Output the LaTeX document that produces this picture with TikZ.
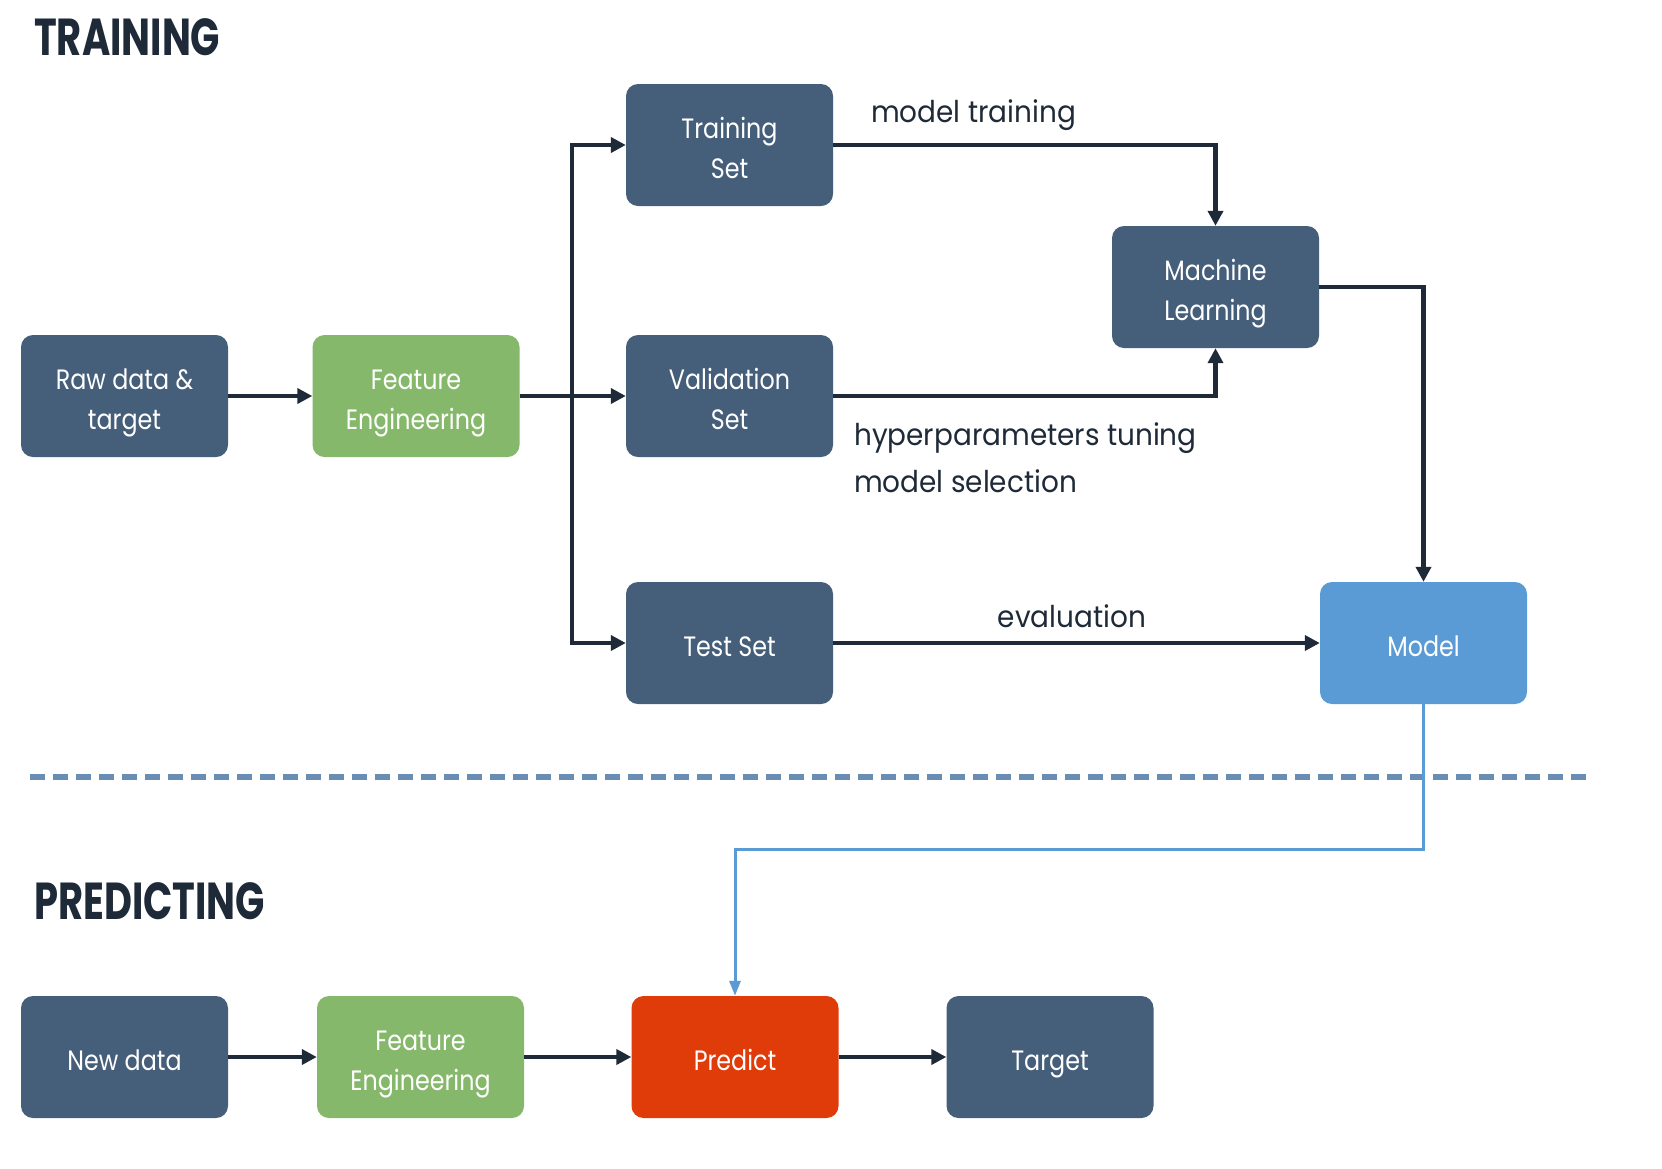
\documentclass[tikz,border=0pt]{standalone}
\usepackage{fontspec}
\setmainfont{Poppins}
\newfontfamily\boxfont[FakeStretch=0.85]{Poppins}
\newfontfamily\lblfont[FakeStretch=0.93]{Poppins}
\newfontfamily\ttlfont[FakeStretch=0.74]{Poppins}
\usetikzlibrary{arrows.meta,positioning}
\definecolor{slate}{HTML}{455E7A}
\definecolor{leaf}{HTML}{86B86B}
\definecolor{sky}{HTML}{5B9BD5}
\definecolor{flame}{HTML}{E03C0A}
\definecolor{ink}{HTML}{1E2A38}
\definecolor{dashblue}{HTML}{6A8DB4}
\newcommand{\bt}[1]{\raisebox{-5pt}[\height][\depth]{\begin{tabular}{@{}c@{}}#1\end{tabular}}}
\tikzset{
  box/.style={rounded corners=12pt, minimum width=207pt, minimum height=122pt, text=white, font=\boxfont\fontsize{28}{40}\selectfont, inner sep=0pt},
  arr/.style={draw=ink, line width=4.5pt, -{Triangle[length=15pt,width=15pt]}},
  bluearr/.style={draw=sky, line width=3pt, -{Triangle[length=15pt,width=11pt]}},
  lbl/.style={text=ink, font=\lblfont\fontsize{30}{36}\selectfont, inner sep=0pt},
  ttl/.style={text=ink, font=\ttlfont\fontsize{52}{60}\selectfont\bfseries, inner sep=0pt, anchor=west}
}
\begin{document}
\begin{tikzpicture}[x=1pt,y=-1pt]
\useasboundingbox[fill=white] (0,0) rectangle (1662,1168);
\node[ttl] (t1) at (34,37) {TRAINING};
\node[ttl] (t2) at (34,901) {PREDICTING};

\node[box, fill=slate] (raw) at (124.5,396) {\bt{Raw data \&\\target}};
\node[box, fill=leaf] (fe) at (416,396) {\bt{Feature\\Engineering}};
\node[box, fill=slate] (train) at (729.5,145) {\bt{Training\\Set}};
\node[box, fill=slate] (val) at (729.5,396) {\bt{Validation\\Set}};
\node[box, fill=slate] (test) at (729.5,643) {\bt{Test Set}};
\node[box, fill=slate] (ml) at (1215.5,287) {\bt{Machine\\Learning}};
\node[box, fill=sky] (model) at (1423.5,643) {\bt{Model}};

\node[box, fill=slate] (new) at (124.5,1057) {\bt{New data}};
\node[box, fill=leaf] (fe2) at (420.5,1057) {\bt{Feature\\Engineering}};
\node[box, fill=flame] (pred) at (735,1057) {\bt{Predict}};
\node[box, fill=slate] (target) at (1050,1057) {\bt{Target}};

\draw[arr] (raw) -- (fe);
\draw[arr] (fe) -- (val);
\coordinate (split) at (572,396);
\draw[arr] (split) |- (train.west);
\draw[arr] (split) |- (test.west);
\draw[arr] (train.east) -| (ml.north);
\draw[arr] (val.east) -| (ml.south);
\draw[arr] (ml.east) -| (model.north);
\draw[arr] (test) -- (model);

\node[lbl, anchor=west] (l1) at (871,115) {model training};
\node[lbl, anchor=west] (l2) at (854,438) {hyperparameters tuning};
\node[lbl, anchor=west] (l3) at (854,481) {model selection};
\node[lbl] (l4) at (1072,616) {evaluation};

\coordinate (dl) at (30,777);
\coordinate (dr) at (1590,777);
\draw[dashblue, line width=5.5pt, dash pattern=on 15pt off 8pt] (dl) -- (dr);

\draw[bluearr] (model.south) -- ++(0,145) -| (pred.north);

\draw[arr] (new) -- (fe2);
\draw[arr] (fe2) -- (pred);
\draw[arr] (pred) -- (target);
\end{tikzpicture}
\end{document}
